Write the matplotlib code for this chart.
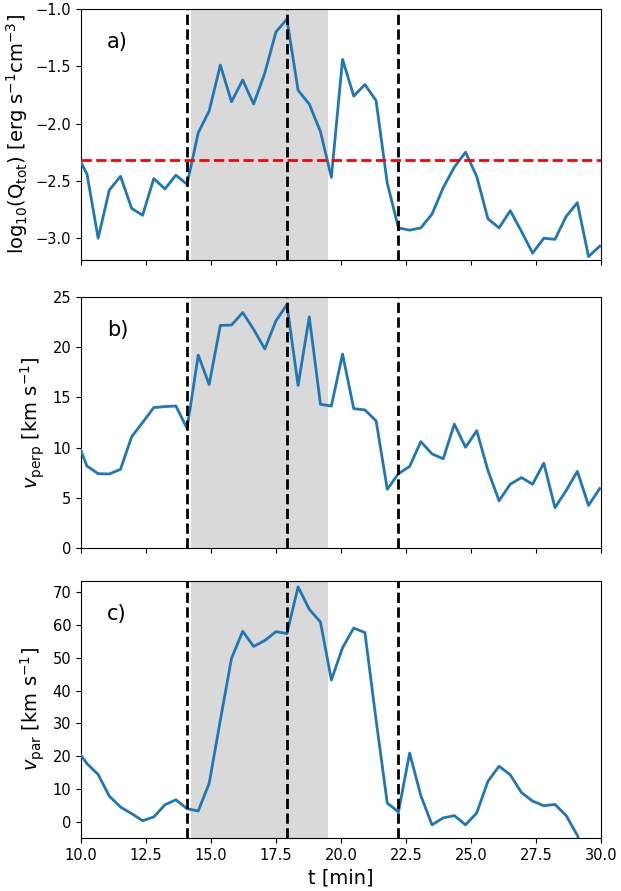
import matplotlib
matplotlib.use("Agg")
import matplotlib.pyplot as plt
import numpy as np

# time samples [min]
t = [9.80, 10.23, 10.66, 11.09, 11.52, 11.95, 12.37, 12.80, 13.23, 13.65,
     14.08, 14.51, 14.93, 15.36, 15.79, 16.22, 16.64, 17.07, 17.50, 17.92,
     18.35, 18.78, 19.21, 19.63, 20.06, 20.49, 20.92, 21.35, 21.78, 22.21,
     22.64, 23.07, 23.50, 23.93, 24.36, 24.79, 25.22, 25.65, 26.08, 26.51,
     26.94, 27.37, 27.80, 28.23, 28.66, 29.09, 29.52, 29.95]

logQ = [-2.25, -2.44, -3.00, -2.58, -2.46, -2.74, -2.80, -2.48, -2.57, -2.45,
        -2.53, -2.08, -1.89, -1.49, -1.81, -1.62, -1.83, -1.56, -1.20, -1.09,
        -1.71, -1.83, -2.07, -2.47, -1.44, -1.76, -1.66, -1.80, -2.52, -2.91,
        -2.93, -2.91, -2.79, -2.56, -2.38, -2.25, -2.46, -2.83, -2.91, -2.76,
        -2.94, -3.13, -3.00, -3.01, -2.81, -2.69, -3.16, -3.07]

vperp = [11.0, 8.16, 7.40, 7.37, 7.83, 11.08, 12.50, 13.98, 14.08, 14.14,
         11.91, 19.21, 16.28, 22.17, 22.20, 23.45, 21.77, 19.83, 22.63, 24.24,
         16.18, 23.02, 14.31, 14.14, 19.31, 13.88, 13.75, 12.66, 5.85, 7.40,
         8.12, 10.59, 9.37, 8.88, 12.33, 10.03, 11.68, 7.73, 4.70, 6.35,
         7.01, 6.35, 8.45, 4.01, 5.72, 7.63, 4.24, 5.92]

vpar = [22.5, 17.8, 14.5, 7.9, 4.6, 2.6, 0.44, 1.6, 5.3, 6.8,
        4.1, 3.4, 11.8, 31.0, 49.8, 58.0, 53.4, 55.2, 57.9, 57.3,
        71.5, 64.7, 60.8, 43.2, 53.0, 59.0, 57.6, 31.0, 5.8, 3.1,
        21.0, 8.1, -0.8, 1.3, 2.0, -0.8, 2.8, 12.4, 17.0, 14.4,
        9.0, 6.4, 5.0, 5.4, 2.0, -4.0, -12.0, -15.0]

vlines = [14.08, 17.92, 22.21]
shade = (14.23, 19.49)
q_threshold = -2.32

ylabels = [r"log$_{10}$(Q$_{\rm tot}$) [erg s$^{-1}$cm$^{-3}$]",
           r"$v_{\rm perp}$ [km s$^{-1}$]",
           r"$v_{\rm par}$ [km s$^{-1}$]"]
letters = ["a)", "b)", "c)"]
ylims = [(-3.19, -1.0), (0, 25), (-4.8, 73.3)]
yticks = [[-3.0, -2.5, -2.0, -1.5, -1.0], [0, 5, 10, 15, 20, 25],
          [0, 10, 20, 30, 40, 50, 60, 70]]
xticks = [10.0, 12.5, 15.0, 17.5, 20.0, 22.5, 25.0, 27.5, 30.0]

fig = plt.figure(figsize=(6.21, 8.91), dpi=100)
L, R = 0.1304, 0.9678
boxes = [(0.7082, 0.9900), (0.3850, 0.6667), (0.0595, 0.3480)]
series = [logQ, vperp, vpar]

for k in range(3):
    b, tp = boxes[k]
    ax = fig.add_axes([L, b, R - L, tp - b])
    ax.axvspan(shade[0], shade[1], color="0.85", lw=0, zorder=0)
    ax.plot(t, series[k], color="#1f77b4", lw=2, zorder=3)
    for v in vlines:
        ax.axvline(v, color="black", ls="--", lw=2, zorder=4)
    if k == 0:
        ax.axhline(q_threshold, color="red", ls="--", lw=2, zorder=4)
    ax.set_xlim(10, 30)
    ax.set_ylim(*ylims[k])
    ax.set_yticks(yticks[k])
    ax.set_xticks(xticks)
    ax.tick_params(labelsize=10.5)
    if k < 2:
        ax.set_xticklabels([])
    else:
        ax.set_xlabel("t [min]", fontsize=14)
    ax.set_ylabel(ylabels[k], fontsize=14)
    ax.text(0.05, 0.87, letters[k], transform=ax.transAxes, fontsize=15,
            va="center", ha="left")

fig.savefig("out.png", dpi=100)
